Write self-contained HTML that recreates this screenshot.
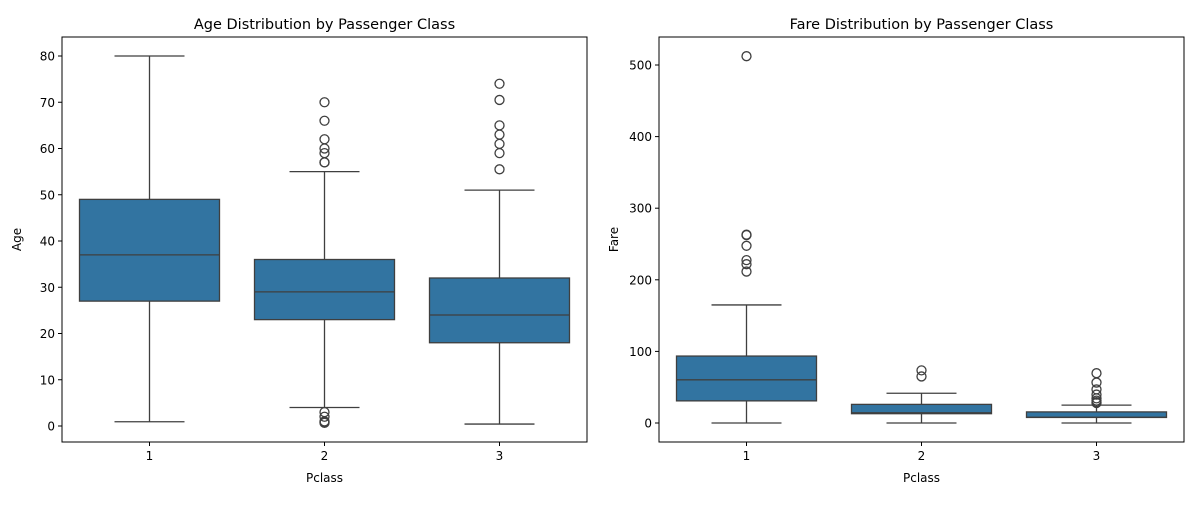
<!DOCTYPE html>
<html><head><meta charset="utf-8"><style>
body{margin:0;background:#fff;font-family:"Liberation Sans","DejaVu Sans",sans-serif}
svg text{font-family:"DejaVu Sans","Liberation Sans",sans-serif;fill:#000}
</style></head><body>
<svg id="c" width="1200" height="500"></svg>
<script>
const categories=["1","2","3"];
const ageLo=[0.92,4,0.42];
const ageQ1=[27,23,18];
const ageMed=[37,29,24];
const ageQ3=[49,36,32];
const ageHi=[80,55,51];
const ageOut=[[],[70,66,62,60,59,57,57,3,2,1,0.83,0.67],[74,70.5,65,63,61,59,55.5]];
const ageTicks=[0,10,20,30,40,50,60,70,80];
const fareLo=[0,0,0];
const fareQ1=[30.9,13,7.75];
const fareMed=[60.3,14.25,8.05];
const fareQ3=[93.5,26,15.5];
const fareHi=[164.9,41.6,25];
const fareOut=[[512.3,263,262.4,247.5,227.5,221.8,211.5],[73.5,65],[69.55,56.5,46.9,39.7,34.4,31.3,29.1,27.9]];
const fareTicks=[0,100,200,300,400,500];

const NS="http://www.w3.org/2000/svg";
const svg=document.getElementById('c');
function mk(t,a,p){const e=document.createElementNS(NS,t);for(const k in a)e.setAttribute(k,a[k]);(p||svg).appendChild(e);return e;}

function panel(x0,x1,yTop,yBot,y0px,ymaxpx,ymax,lo,q1,med,q3,hi,out,ticks,title,ylabel,name){
  const g=mk('g',{});
  
  
  const ys=v=>y0px-(v/ymax)*(y0px-ymaxpx);
  const band=(x1-x0)/categories.length;
  const xc=i=>x0+band*(i+0.5);
  const bw=band*0.8;
  categories.forEach((c,i)=>{
    const bg=mk('g',{},g);
    
    
    const cx=xc(i);
    mk('line',{x1:cx,x2:cx,y1:ys(hi[i]),y2:ys(q3[i]),stroke:'#3f3f3f','stroke-width':1.3},bg);
    mk('line',{x1:cx,x2:cx,y1:ys(q1[i]),y2:ys(lo[i]),stroke:'#3f3f3f','stroke-width':1.3},bg);
    mk('line',{x1:cx-bw/4,x2:cx+bw/4,y1:ys(hi[i]),y2:ys(hi[i]),stroke:'#3f3f3f','stroke-width':1.3},bg);
    mk('line',{x1:cx-bw/4,x2:cx+bw/4,y1:ys(lo[i]),y2:ys(lo[i]),stroke:'#3f3f3f','stroke-width':1.3},bg);
    mk('rect',{x:cx-bw/2,y:ys(q3[i]),width:bw,height:ys(q1[i])-ys(q3[i]),fill:'#3274a1',stroke:'#3f3f3f','stroke-width':1.3},bg);
    mk('line',{x1:cx-bw/2,x2:cx+bw/2,y1:ys(med[i]),y2:ys(med[i]),stroke:'#3f3f3f','stroke-width':1.3},bg);
    out[i].forEach(v=>{const o=mk('circle',{cx:cx,cy:ys(v),r:4.5,fill:'none',stroke:'#3f3f3f','stroke-width':1.3},bg);
      
      });
    mk('line',{x1:cx,x2:cx,y1:yBot,y2:yBot+4,stroke:'#000'},g);
    const t=mk('text',{x:cx,y:yBot+18,'text-anchor':'middle','font-size':12},g);t.textContent=c;
    
    
  });
  ticks.forEach(v=>{
    mk('line',{x1:x0-4,x2:x0,y1:ys(v),y2:ys(v),stroke:'#000'},g);
    const t=mk('text',{x:x0-7,y:ys(v)+4.5,'text-anchor':'end','font-size':12},g);t.textContent=v;
    
    
  });
  mk('rect',{x:x0,y:yTop,width:x1-x0,height:yBot-yTop,fill:'none',stroke:'#000','stroke-width':1},g);
  const tt=mk('text',{x:(x0+x1)/2,y:yTop-8,'text-anchor':'middle','font-size':14.5},g);tt.textContent=title;
  
  
  const xl=mk('text',{x:(x0+x1)/2,y:482,'text-anchor':'middle','font-size':12},g);xl.textContent='Pclass';
  
  
  const yl=mk('text',{x:0,y:0,'text-anchor':'middle','font-size':12,transform:`translate(${x0-41},${(yTop+yBot)/2}) rotate(-90)`},g);yl.textContent=ylabel;
  
  
}
panel(62,587,37,442,426,56,80,ageLo,ageQ1,ageMed,ageQ3,ageHi,ageOut,ageTicks,'Age Distribution by Passenger Class','Age','age-panel');
panel(659,1184,37,442,423,65,500,fareLo,fareQ1,fareMed,fareQ3,fareHi,fareOut,fareTicks,'Fare Distribution by Passenger Class','Fare','fare-panel');
</script>
</body></html>
